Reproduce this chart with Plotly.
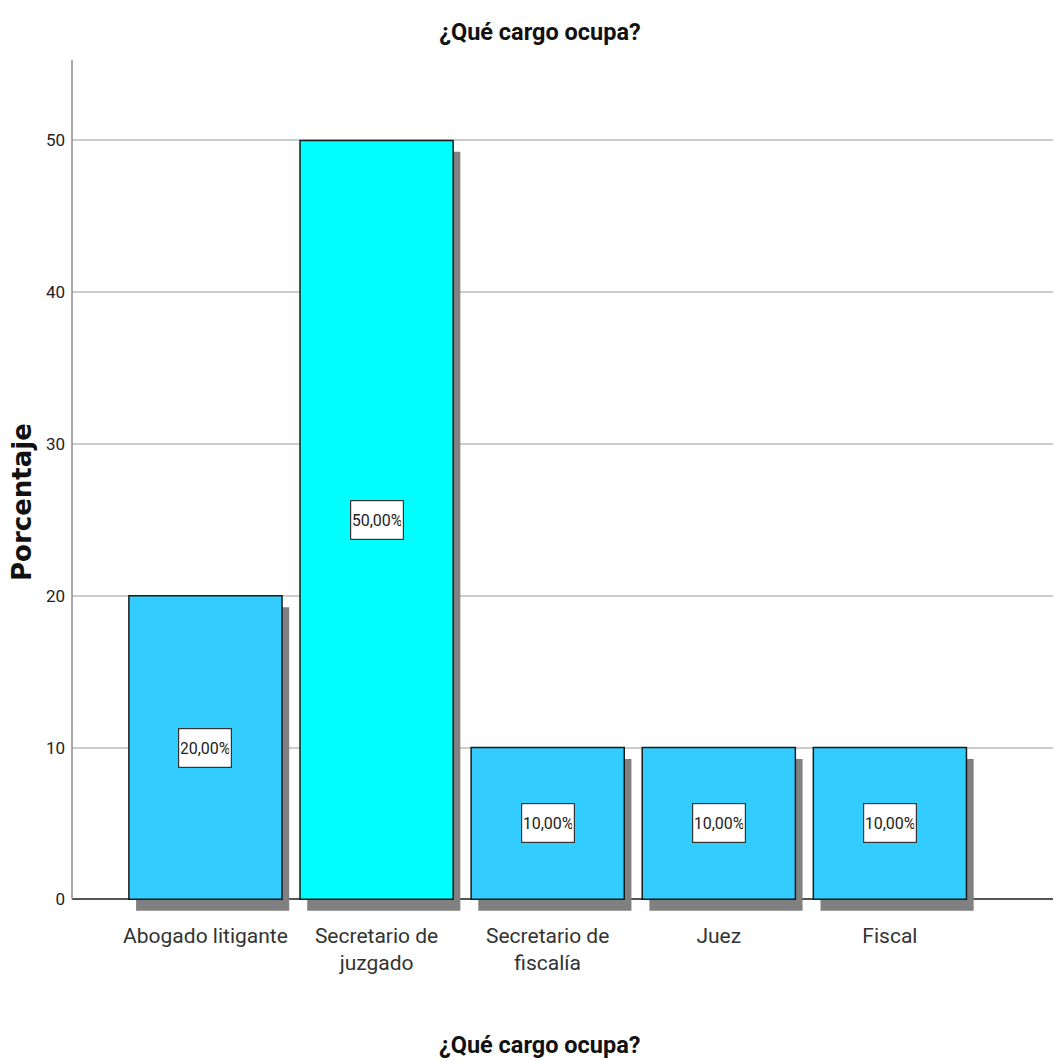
import plotly.graph_objects as go

categories = ["Abogado litigante", "Secretario de<br>juzgado", "Secretario de<br>fiscalía", "Juez", "Fiscal"]
values = [20, 50, 10, 10, 10]
value_labels = ["20,00%", "50,00%", "10,00%", "10,00%", "10,00%"]
bar_colors = ["#33CCFF", "#00FFFF", "#33CCFF", "#33CCFF", "#33CCFF"]
y_ticks = [0, 10, 20, 30, 40, 50]

NARROW = "Roboto, Liberation Sans, Arial, sans-serif"
WIDE_BOLD = "DejaVu Sans, Liberation Sans, Arial, sans-serif"

bar_w = 0.895
shadow_dx = 0.042
shadow_dy = 0.75

# page body has an 8px margin; figure is sized to fit the 1061 window
W = H = 1053
L, T, PB = 64, 52, 905           # plot left, top, bottom (page px minus 8)
PW, PH = W - L, PB - T

fig = go.Figure()

# shadows
fig.add_trace(go.Bar(
    x=categories, y=values, base=[-shadow_dy] * len(values),
    width=bar_w, offset=-bar_w / 2 + shadow_dx,
    marker=dict(color="#808080", line=dict(width=0)),
    hoverinfo="skip", showlegend=False,
))
# main bars
fig.add_trace(go.Bar(
    x=categories, y=values,
    width=bar_w, offset=-bar_w / 2,
    marker=dict(color=bar_colors, line=dict(color="#1a1a1a", width=1.5)),
    showlegend=False,
))

for c, v, lab in zip(categories, values, value_labels):
    fig.add_annotation(
        x=c, y=v / 2, xref="x", yref="y", text=lab, showarrow=False,
        font=dict(family=NARROW, size=16, color="#222"),
        bgcolor="white", bordercolor="#333", borderwidth=1.2, borderpad=2,
        width=48, height=34,
    )

# y-axis line from 0 to top
fig.add_shape(type="line", xref="paper", yref="y", x0=0, x1=0, y0=0, y1=55.3,
              line=dict(color="#8c8c8c", width=1.5))

fig.update_layout(
    width=W, height=H,
    margin=dict(l=L, r=0, t=T, b=H - PB),
    paper_bgcolor="white", plot_bgcolor="white",
    barmode="overlay",
    title=dict(text="<b>¿Qué cargo ocupa?</b>", x=(540 - 8) / W, xanchor="center",
               y=1 - 24 / H, yref="container", yanchor="middle",
               font=dict(family=NARROW, size=23.5, color="#111")),
    xaxis=dict(range=[-0.78, 5.0], showgrid=False, showline=False, zeroline=False,
               ticks="", tickfont=dict(family=NARROW, size=21, color="#333"),
               ticklabelstandoff=8),
    yaxis=dict(range=[-0.9, 55.3], tickvals=y_ticks, ticktext=[str(t) for t in y_ticks],
               showgrid=True, gridcolor="#cccccc", gridwidth=2,
               zeroline=True, zerolinecolor="#555", zerolinewidth=1.5,
               showline=False, ticks="",
               tickfont=dict(family=NARROW, size=17, color="#222"),
               ticklabelstandoff=6),
    annotations=list(fig.layout.annotations) + [
        dict(text="<b>¿Qué cargo ocupa?</b>", xref="paper", yref="paper",
             x=(540 - 8 - L) / PW, y=-(1037 - PB) / PH, showarrow=False,
             yanchor="middle", xanchor="center",
             font=dict(family=NARROW, size=23.5, color="#111")),
        dict(text="<b>Porcentaje</b>", xref="paper", yref="paper",
             x=-(L - 14) / PW, y=1 - (494 - T) / PH, showarrow=False,
             textangle=-90, xanchor="center", yanchor="middle",
             font=dict(family=WIDE_BOLD, size=26, color="#111")),
    ],
)

fig.write_html("out.html")
